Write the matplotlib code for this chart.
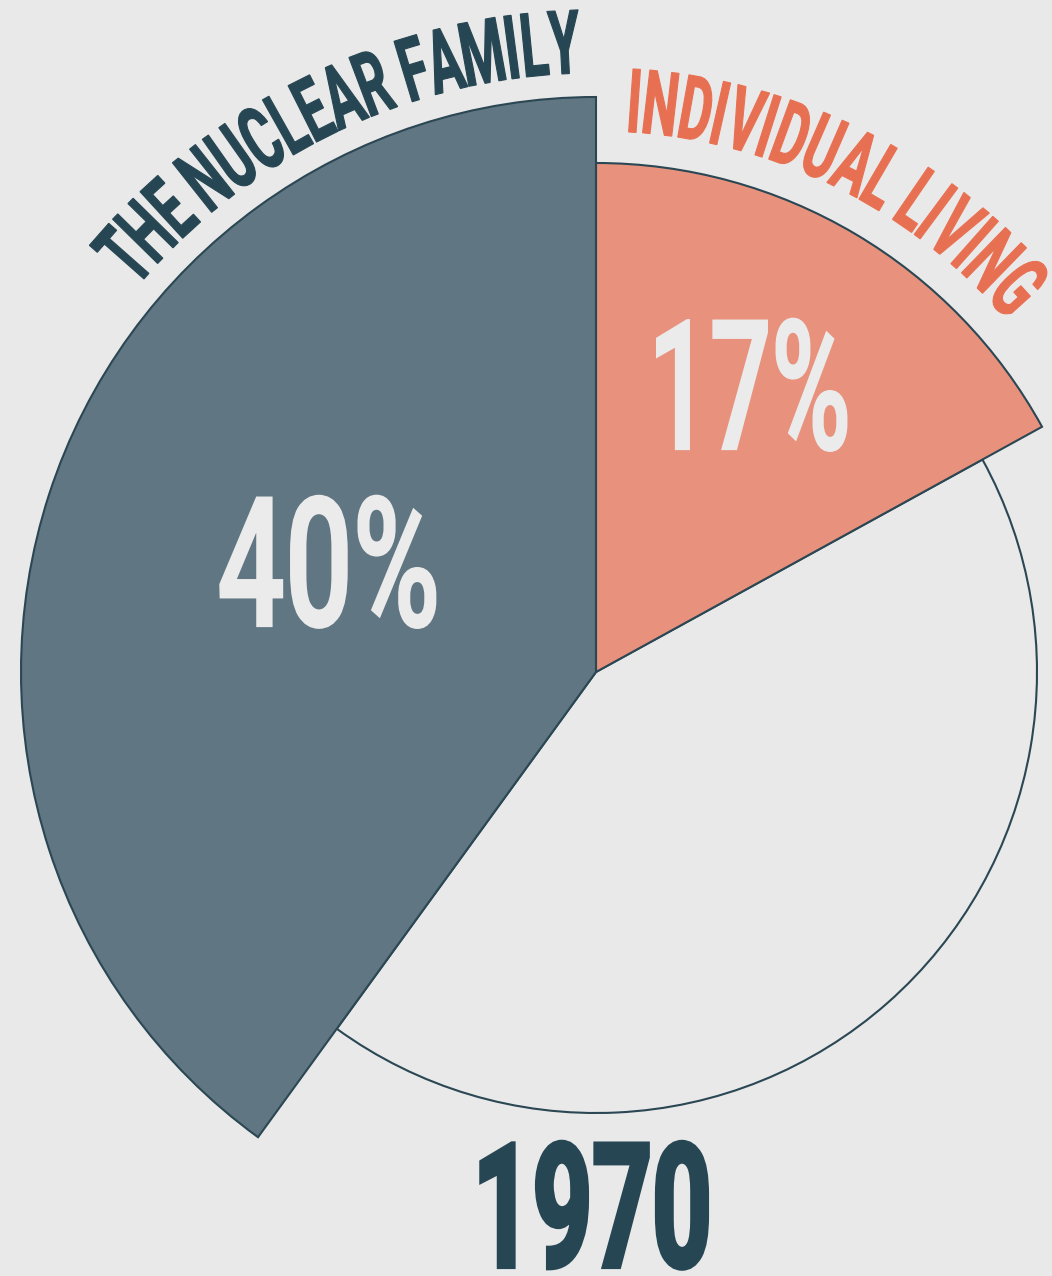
import matplotlib
matplotlib.use("Agg")
import matplotlib.pyplot as plt
import numpy as np
from matplotlib.patches import Wedge
from matplotlib.patheffects import AbstractPathEffect
from matplotlib.transforms import Affine2D
from matplotlib.textpath import TextToPath
from matplotlib.font_manager import FontProperties

# ---------------- data ----------------
categories = ["THE NUCLEAR FAMILY", "INDIVIDUAL LIVING", "OTHER"]
shares = [40, 17, 43]
value_labels = ["40%", "17%", ""]
year_label = "1970"

# ---------------- style ----------------
BG = "#e9e9e9"
EDGE = "#2a4753"
NUC = "#607682"
IND = "#e8927e"
ORANGE = "#e87052"
DARK = "#264653"
LIGHT = "#ebebeb"
FAM = ["Roboto", "DejaVu Sans"]


class Squeeze(AbstractPathEffect):
    """Condense glyphs horizontally (in the text's own frame), optionally embolden."""
    def __init__(self, sx, stroke=0.0):
        super().__init__()
        self.sx = sx
        self.stroke = stroke

    def draw_path(self, renderer, gc, tpath, affine, rgbFace=None):
        v = tpath.vertices
        c = 0.5 * (v[:, 0].min() + v[:, 0].max()) if len(v) else 0.0
        pre = Affine2D().translate(-c, 0).scale(self.sx, 1).translate(c, 0)
        if self.stroke > 0:
            gc0 = renderer.new_gc()
            gc0.copy_properties(gc)
            gc0.set_linewidth(self.stroke)
            gc0.set_foreground(rgbFace)
            gc0.set_joinstyle("miter")
            renderer.draw_path(gc0, tpath, pre + affine, rgbFace)
            gc0.restore()
        else:
            renderer.draw_path(gc, tpath, pre + affine, rgbFace)


fig = plt.figure(figsize=(10.52, 12.76), dpi=100, facecolor=BG)
ax = fig.add_axes([0, 0, 1, 1])
ax.set_xlim(0, 1052)
ax.set_ylim(0, 1276)
ax.set_aspect("equal")
ax.axis("off")
ax.set_facecolor(BG)

cx, cy = 596, 604
start = 90.0
ang = [s * 3.6 for s in shares]
radii = [575, 509, 441]
lw = 1.5

# remainder (outline only)
ax.add_patch(Wedge((cx, cy), radii[2], start + ang[0], start - ang[1] + 360,
                   facecolor="none", edgecolor=EDGE, lw=lw))
# individual living (clockwise from top)
ax.add_patch(Wedge((cx, cy), radii[1], start - ang[1], start,
                   facecolor=IND, edgecolor=EDGE, lw=lw))
# nuclear family (counter-clockwise from top)
ax.add_patch(Wedge((cx, cy), radii[0], start, start + ang[0],
                   facecolor=NUC, edgecolor=EDGE, lw=lw))

# ---------------- curved titles ----------------
t2p = TextToPath()


def arc_text(s, r_base, th_first, th_last, size, color, sx, weight, stroke):
    fp = FontProperties(family=FAM, weight=weight, size=size)
    w = [0.0] + [t2p.get_text_width_height_descent(s[:i], fp, ismath=False)[0]
                 for i in range(1, len(s) + 1)]
    centers = [(w[i] + w[i + 1]) / 2 for i in range(len(s))]
    c0, c1 = centers[0], centers[-1]
    for ch, c in zip(s, centers):
        if ch == " ":
            continue
        th = th_first + (c - c0) / (c1 - c0) * (th_last - th_first)
        x = cx + r_base * np.cos(np.radians(th))
        y = cy + r_base * np.sin(np.radians(th))
        ax.text(x, y, ch, rotation=th - 90, rotation_mode="anchor",
                ha="center", va="baseline", fontproperties=fp, color=color,
                path_effects=[Squeeze(sx, stroke)])


arc_text(categories[0], 599, 138.6, 92.9, 64, DARK, 0.57, "bold", 0.8)
arc_text(categories[1], 541, 86.0, 42.2, 64, ORANGE, 0.57, "bold", 0.8)

# ---------------- value labels ----------------
ax.text(330, 650, value_labels[0], ha="center", va="baseline", fontsize=130,
        family=FAM, weight="medium", color=LIGHT,
        path_effects=[Squeeze(0.66, 1.6)])
ax.text(751, 827, value_labels[1], ha="center", va="baseline", fontsize=130,
        family=FAM, weight="medium", color=LIGHT,
        path_effects=[Squeeze(0.60, 1.6)])
ax.text(594, 9, year_label, ha="center", va="baseline", fontsize=125,
        family=FAM, weight="bold", color=DARK,
        path_effects=[Squeeze(0.60, 3.0)])

fig.savefig("out.png", dpi=100, facecolor=BG)
